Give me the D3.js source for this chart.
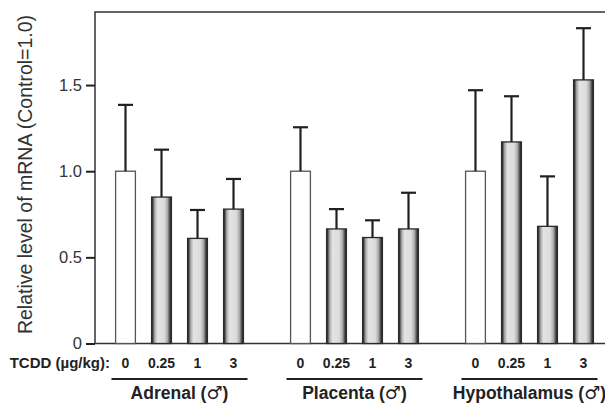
<!DOCTYPE html>
<html>
<head>
<meta charset="utf-8">
<script src="https://cdn.jsdelivr.net/npm/d3@7"></script>
<style>
  body { margin: 0; background: #fff; }
  svg { font-family: "Liberation Sans", Arial, sans-serif; }
</style>
</head>
<body>
<div id="chart"></div>
<script>
// data
var groups = ["Adrenal", "Placenta", "Hypothalamus"];
var doses = ["0", "0.25", "1", "3"];
var adrenalMean = [1.0, 0.85, 0.61, 0.78];
var adrenalErr = [1.385, 1.125, 0.775, 0.955];
var placentaMean = [1.0, 0.665, 0.615, 0.665];
var placentaErr = [1.255, 0.78, 0.715, 0.875];
var hypothalamusMean = [1.0, 1.17, 0.68, 1.53];
var hypothalamusErr = [1.47, 1.435, 0.97, 1.83];
var yTicks = [0, 0.5, 1.0, 1.5];

var means = [adrenalMean, placentaMean, hypothalamusMean];
var errs = [adrenalErr, placentaErr, hypothalamusErr];

var data = [];
groups.forEach(function(g, gi) {
  doses.forEach(function(d, di) {
    data.push({group: g, dose: d, value: means[gi][di], upper: errs[gi][di]});
  });
});

var chartW = 605, chartH = 405;
var plotLeft = 95, plotTop = 12, plotBottom = 343.5;

var svg = d3.select("#chart").append("svg")
  .attr("width", chartW)
  .attr("height", chartH);

// cylinder shading of the treated bars
var defs = svg.append("defs");
var grad = defs.append("linearGradient")
  .attr("id", "cyl")
  .attr("x1", "0%").attr("x2", "100%")
  .attr("y1", "0%").attr("y2", "0%");
[[0, "#1a1a1a"], [0.06, "#454545"], [0.16, "#acacac"], [0.3, "#e3e3e5"],
 [0.64, "#dcdcde"], [0.8, "#aaaaaa"], [0.92, "#474747"], [1, "#1a1a1a"]].forEach(function(s) {
  grad.append("stop").attr("offset", s[0]).attr("stop-color", s[1]);
});

var y = d3.scaleLinear().domain([0, 1.924]).range([plotBottom, plotTop]);

var x0 = d3.scaleBand()
  .domain(groups)
  .range([107.5, 601.5])
  .paddingInner(0.177)
  .paddingOuter(0);

var x1 = d3.scaleBand()
  .domain(doses)
  .range([0, x0.bandwidth()])
  .paddingInner(0.45)
  .paddingOuter(0.225);

function cx(d) { return x0(d.group) + x1(d.dose) + x1.bandwidth() / 2; }

// frame
svg.append("path")
  .attr("d", "M" + chartW + "," + plotTop + "H" + plotLeft + "V" + plotBottom + "H" + chartW)
  .attr("fill", "none")
  .attr("stroke", "#333")
  .attr("stroke-width", 1.5);

// y axis
var yAxis = svg.append("g")
  .attr("transform", "translate(" + plotLeft + ",0)")
  .call(d3.axisLeft(y).tickValues(yTicks).tickSize(9).tickPadding(4)
    .tickFormat(function(d) { return d === 0 ? "0" : d3.format(".1f")(d); }));
yAxis.select(".domain").remove();
yAxis.selectAll(".tick line").attr("stroke", "#222").attr("stroke-width", 2);
yAxis.selectAll(".tick text")
  .attr("fill", "#333")
  .attr("font-size", 16.5)
  .attr("font-family", "Liberation Sans, Arial, sans-serif");

svg.append("text")
  .attr("transform", "translate(32,174.5) rotate(-90)")
  .attr("text-anchor", "middle")
  .attr("fill", "#333")
  .attr("font-size", 19.5)
  .text("Relative level of mRNA (Control=1.0)");

// bars
svg.append("g").selectAll("rect")
  .data(data)
  .enter().append("rect")
  .attr("x", function(d) { return x0(d.group) + x1(d.dose); })
  .attr("y", function(d) { return y(d.value); })
  .attr("width", x1.bandwidth())
  .attr("height", function(d) { return y(0) - y(d.value); })
  .attr("fill", function(d) { return d.dose === "0" ? "#fff" : "url(#cyl)"; })
  .attr("stroke", function(d) { return d.dose === "0" ? "#555" : "#2a2a2a"; })
  .attr("stroke-width", 1.3);

// error bars
var errG = svg.append("g")
  .attr("stroke", "#231f20")
  .attr("stroke-width", 2.2);
errG.selectAll("line.v")
  .data(data)
  .enter().append("line")
  .attr("class", "v")
  .attr("x1", cx)
  .attr("x2", cx)
  .attr("y1", function(d) { return y(d.value); })
  .attr("y2", function(d) { return y(d.upper); });
errG.selectAll("line.cap")
  .data(data)
  .enter().append("line")
  .attr("class", "cap")
  .attr("x1", function(d) { return cx(d) - 7.5; })
  .attr("x2", function(d) { return cx(d) + 7.5; })
  .attr("y1", function(d) { return y(d.upper); })
  .attr("y2", function(d) { return y(d.upper); });

// dose labels
svg.append("text")
  .attr("x", 110)
  .attr("y", 368)
  .attr("text-anchor", "end")
  .attr("font-weight", "bold")
  .attr("font-size", 15)
  .attr("fill", "#222")
  .text("TCDD (\u00b5g/kg):");

svg.append("g").selectAll("text")
  .data(data)
  .enter().append("text")
  .attr("x", cx)
  .attr("y", 368)
  .attr("text-anchor", "middle")
  .attr("font-weight", "bold")
  .attr("font-size", 14)
  .attr("fill", "#222")
  .text(function(d) { return d.dose; });

// group underline + labels
var gl = svg.append("g").selectAll("g")
  .data(groups)
  .enter().append("g");
gl.append("line")
  .attr("x1", function(d) { return x0(d) + 4; })
  .attr("x2", function(d) { return x0(d) + x0.bandwidth() - 4; })
  .attr("y1", 379).attr("y2", 379)
  .attr("stroke", "#222")
  .attr("stroke-width", 2);
var glText = gl.append("text")
  .attr("x", function(d) { return x0(d) + x0.bandwidth() / 2; })
  .attr("y", 399)
  .attr("text-anchor", "middle")
  .attr("font-weight", "bold")
  .attr("font-size", 17.5)
  .attr("fill", "#222");
glText.append("tspan").text(function(d) { return d + " ("; });
glText.append("tspan")
  .attr("font-family", "DejaVu Sans")
  .attr("font-size", 18)
  .text("\u2642");
glText.append("tspan").text(")");
</script>
</body>
</html>
